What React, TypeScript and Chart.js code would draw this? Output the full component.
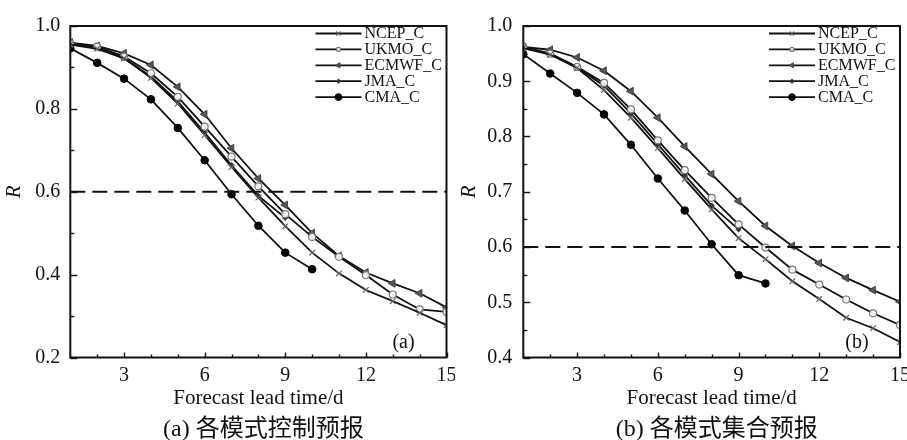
import React, { useEffect, useRef } from 'react';
import { Chart, registerables } from 'chart.js';
import { drawPoint } from 'chart.js/helpers';

Chart.register(...registerables);

// ---------- data ----------
const days = [1, 2, 3, 4, 5, 6, 7, 8, 9, 10, 11, 12, 13, 14, 15];
const modelNames = ['NCEP_C', 'UKMO_C', 'ECMWF_C', 'JMA_C', 'CMA_C'];
const xLabelDays = [3, 6, 9, 12, 15];
const thresholdR = 0.6;

// (a) control forecasts
const ncepCtrl = [0.955, 0.945, 0.922, 0.875, 0.813, 0.737, 0.660, 0.586, 0.517, 0.453, 0.403, 0.363, 0.336, 0.308, 0.278];
const ukmoCtrl = [0.958, 0.950, 0.926, 0.886, 0.829, 0.757, 0.685, 0.613, 0.546, 0.491, 0.443, 0.399, 0.352, 0.316, 0.310];
const ecmwfCtrl = [0.960, 0.952, 0.934, 0.906, 0.853, 0.787, 0.705, 0.632, 0.568, 0.500, 0.445, 0.405, 0.379, 0.355, 0.321];
const jmaCtrl = [0.958, 0.948, 0.922, 0.878, 0.818, 0.743, 0.664, 0.590, 0.537];
const cmaCtrl = [0.946, 0.911, 0.873, 0.823, 0.754, 0.676, 0.594, 0.518, 0.453, 0.413];

// (b) ensemble forecasts
const ncepEns = [0.960, 0.948, 0.924, 0.884, 0.834, 0.779, 0.723, 0.668, 0.616, 0.578, 0.538, 0.506, 0.472, 0.453, 0.428];
const ukmoEns = [0.962, 0.950, 0.926, 0.897, 0.849, 0.793, 0.739, 0.689, 0.641, 0.599, 0.559, 0.532, 0.505, 0.480, 0.459];
const ecmwfEns = [0.962, 0.957, 0.943, 0.919, 0.882, 0.834, 0.782, 0.732, 0.683, 0.638, 0.602, 0.571, 0.544, 0.522, 0.501];
const jmaEns = [0.960, 0.950, 0.925, 0.892, 0.842, 0.786, 0.730, 0.675, 0.632];
const cmaEns = [0.949, 0.914, 0.879, 0.840, 0.785, 0.724, 0.666, 0.605, 0.549, 0.534];

const captionA = '(a) 各模式控制预报';
const captionB = '(b) 各模式集合预报';

// ---------- styles ----------
const SERIF = "'Liberation Serif', 'Times New Roman', serif";
const CAPTION_FONT = "'Liberation Serif', 'Noto Sans CJK SC', serif";
const INK = '#111';

const seriesStyles = [
  { pointStyle: 'crossRot', rotation: 0, radius: 4, border: '#666', fill: '#666', pbw: 1.2, legendRadius: 3 },
  { pointStyle: 'circle', rotation: 0, radius: 3.5, border: '#777', fill: 'rgba(255,255,255,0.9)', pbw: 1.2, legendRadius: 2 },
  { pointStyle: 'triangle', rotation: -90, radius: 4.5, border: '#444', fill: '#555', pbw: 1, legendRadius: 3 },
  { pointStyle: 'rectRot', rotation: 0, radius: 2.6, border: '#333', fill: '#333', pbw: 1, legendRadius: 2.2 },
  { pointStyle: 'circle', rotation: 0, radius: 3.8, border: '#000', fill: '#000', pbw: 1, legendRadius: 3.4 },
];

const toPoints = (vals: number[]) => vals.map((v, i) => ({ x: days[i], y: v }));

const decoPlugin = {
  id: 'deco',
  afterDatasetsDraw(chart: any, _args: any, opts: any) {
    const { ctx, chartArea, scales } = chart;
    const { left, right, top, bottom } = chartArea;
    const xs = scales.x;
    const ys = scales.y;
    ctx.save();
    ctx.strokeStyle = INK;
    ctx.lineWidth = 1.4;
    // x ticks (inward)
    for (const d of days) {
      const px = Math.round(xs.getPixelForValue(d)) + 0.5;
      const len = d % 3 === 0 ? 5 : 3;
      ctx.beginPath();
      ctx.moveTo(px, bottom);
      ctx.lineTo(px, bottom - len);
      ctx.stroke();
    }
    // y ticks (inward)
    const n = Math.round((opts.yMax - opts.yMin) / opts.yMinor);
    const ratio = Math.round(opts.yMajor / opts.yMinor);
    for (let i = 0; i <= n; i++) {
      const v = opts.yMin + i * opts.yMinor;
      const py = Math.round(ys.getPixelForValue(v)) + 0.5;
      const len = i % ratio === 0 ? 7 : 4;
      ctx.beginPath();
      ctx.moveTo(left, py);
      ctx.lineTo(left + len, py);
      ctx.stroke();
    }
    // frame
    ctx.lineWidth = 2;
    ctx.strokeRect(left, top, right - left, bottom - top);
    ctx.restore();
  },
  afterDraw(chart: any, _args: any, opts: any) {
    const { ctx, chartArea } = chart;
    const { left, right, top, bottom } = chartArea;
    ctx.save();
    // legend
    modelNames.forEach((name, i) => {
      const st = seriesStyles[i];
      const yRow = top + 7.5 + i * 15.9;
      const x0 = right - 131;
      const x1 = right - 85;
      ctx.strokeStyle = INK;
      ctx.lineWidth = 1.8;
      ctx.beginPath();
      ctx.moveTo(x0, yRow);
      ctx.lineTo(x1, yRow);
      ctx.stroke();
      ctx.fillStyle = st.fill;
      ctx.strokeStyle = st.border;
      ctx.lineWidth = st.pbw;
      drawPoint(ctx, { pointStyle: st.pointStyle, rotation: st.rotation, radius: st.legendRadius, borderWidth: st.pbw } as any, (x0 + x1) / 2, yRow);
      ctx.fillStyle = INK;
      ctx.font = `16px ${SERIF}`;
      ctx.textAlign = 'left';
      ctx.textBaseline = 'middle';
      ctx.fillText(name, right - 82, yRow + 0.5);
    });
    // panel label
    ctx.fillStyle = INK;
    ctx.font = `20px ${SERIF}`;
    ctx.textAlign = 'center';
    ctx.textBaseline = 'middle';
    ctx.fillText(opts.label, right - 43, bottom - 14.5);
    // caption
    ctx.font = `24px ${CAPTION_FONT}`;
    ctx.fillText(opts.caption, (left + right) / 2 + 5, 430);
    ctx.restore();
  },
};

type PanelCfg = {
  series: number[][];
  yMin: number;
  yMax: number;
  yMajor: number;
  yMinor: number;
  yAxisWidth: number;
  padRight: number;
  yTickPad: number;
  label: string;
  caption: string;
};

function Panel({ left, width, cfg }: { left: number; width: number; cfg: PanelCfg }) {
  const ref = useRef<HTMLCanvasElement>(null);
  useEffect(() => {
    const datasets: any[] = cfg.series.map((vals, i) => {
      const st = seriesStyles[i];
      return {
        label: modelNames[i],
        data: toPoints(vals),
        borderColor: INK,
        borderWidth: 1.8,
        tension: 0,
        fill: false,
        pointStyle: st.pointStyle,
        rotation: st.rotation,
        pointRadius: st.radius,
        pointBackgroundColor: st.fill,
        pointBorderColor: st.border,
        pointBorderWidth: st.pbw,
        order: 1,
      };
    });
    datasets.push({
      label: 'threshold',
      data: [
        { x: days[0], y: thresholdR },
        { x: days[days.length - 1], y: thresholdR },
      ],
      borderColor: INK,
      borderWidth: 2,
      borderDash: [15, 7],
      pointRadius: 0,
      fill: false,
      order: 0,
    });
    const chart = new Chart(ref.current as HTMLCanvasElement, {
      type: 'line',
      data: { datasets },
      plugins: [decoPlugin as any],
      options: {
        responsive: false,
        animation: false,
        events: [],
        layout: { padding: { top: 26, right: cfg.padRight, left: 0, bottom: 0 } },
        plugins: {
          legend: { display: false },
          tooltip: { enabled: false },
          deco: {
            yMin: cfg.yMin,
            yMax: cfg.yMax,
            yMajor: cfg.yMajor,
            yMinor: cfg.yMinor,
            label: cfg.label,
            caption: cfg.caption,
          },
        } as any,
        scales: {
          x: {
            type: 'linear',
            min: 1,
            max: 15,
            grid: { display: false, drawTicks: false },
            border: { display: false },
            ticks: {
              stepSize: 1,
              autoSkip: false,
              maxRotation: 0,
              padding: 6,
              color: INK,
              font: { family: SERIF, size: 20 },
              callback: (v: any) => (xLabelDays.includes(Number(v)) ? String(v) : ''),
            },
            title: {
              display: true,
              text: 'Forecast lead time/d',
              color: INK,
              font: { family: SERIF, size: 21 },
              padding: { top: 0, bottom: 28.5 },
            },
            afterFit: (s: any) => {
              s.height = 82.5;
              s.paddingLeft = 0;
              s.paddingRight = 0;
            },
          },
          y: {
            type: 'linear',
            min: cfg.yMin,
            max: cfg.yMax,
            grid: { display: false, drawTicks: false },
            border: { display: false },
            ticks: {
              stepSize: cfg.yMajor,
              padding: cfg.yTickPad,
              color: INK,
              font: { family: SERIF, size: 20 },
              callback: (v: any) => Number(v).toFixed(1),
            },
            title: {
              display: true,
              text: 'R',
              color: INK,
              font: { family: SERIF, size: 21, style: 'italic' },
              padding: { top: 1.5, bottom: 0 },
            },
            afterFit: (s: any) => {
              s.width = cfg.yAxisWidth;
              s.paddingTop = 0;
              s.paddingBottom = 0;
            },
          },
        },
      } as any,
    });
    return () => chart.destroy();
  }, []);
  return (
    <canvas
      ref={ref}
      width={width}
      height={440}
      style={{ position: 'absolute', left, top: 0, width, height: 440 }}
    />
  );
}

const panelA: PanelCfg = {
  series: [ncepCtrl, ukmoCtrl, ecmwfCtrl, jmaCtrl, cmaCtrl],
  yMin: 0.2,
  yMax: 1.0,
  yMajor: 0.2,
  yMinor: 0.1,
  yAxisWidth: 70.3,
  padRight: 8.5,
  yTickPad: 10,
  label: '(a)',
  caption: captionA,
};

const panelB: PanelCfg = {
  series: [ncepEns, ukmoEns, ecmwfEns, jmaEns, cmaEns],
  yMin: 0.4,
  yMax: 1.0,
  yMajor: 0.1,
  yMinor: 0.05,
  yAxisWidth: 68.3,
  padRight: 7,
  yTickPad: 11,
  label: '(b)',
  caption: captionB,
};

export default function App() {
  return (
    <div style={{ position: 'absolute', left: 0, top: 0, width: 907, height: 440, background: '#fff', overflow: 'hidden' }}>
      <Panel left={0} width={455} cfg={panelA} />
      <Panel left={455} width={452} cfg={panelB} />
    </div>
  );
}
